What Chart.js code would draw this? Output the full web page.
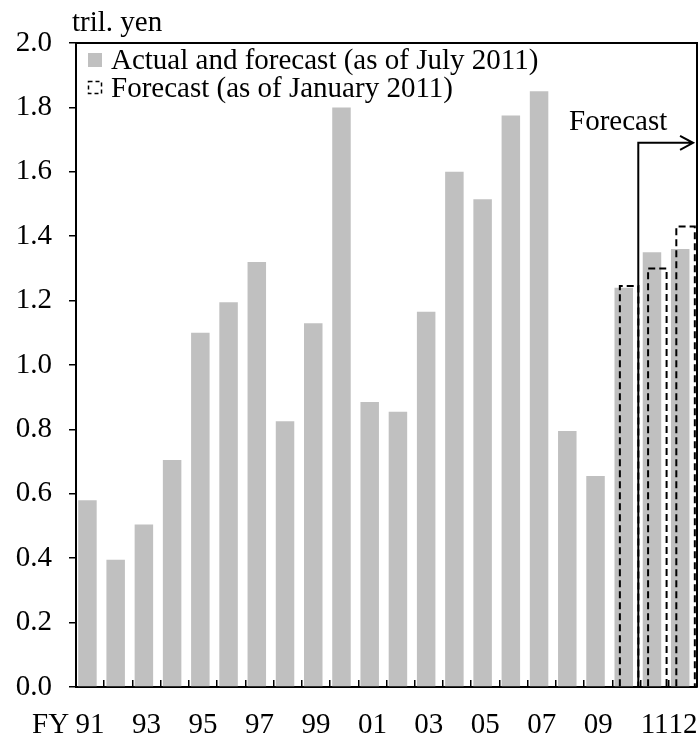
<!DOCTYPE html>
<html>
<head>
<meta charset="utf-8">
<script src="https://cdn.jsdelivr.net/npm/chart.js@4.4.1/dist/chart.umd.min.js"></script>
<style>
  html, body { margin: 0; padding: 0; background: #fff; }
</style>
</head>
<body>
<canvas id="chart" width="700" height="735"></canvas>
<script>
// fiscal years and values (tril. yen)
const years = ['91','92','93','94','95','96','97','98','99','00','01',
               '02','03','04','05','06','07','08','09','10','11','12'];
const actualJuly = [0.58, 0.395, 0.505, 0.705, 1.10, 1.195, 1.32, 0.825, 1.13, 1.80, 0.885,
                    0.855, 1.165, 1.60, 1.515, 1.775, 1.85, 0.795, 0.655, 1.24, 1.35, 1.36];
const forecastJan = [null, null, null, null, null, null, null, null, null, null, null,
                     null, null, null, null, null, null, null, null, 1.245, 1.30, 1.43];
const shownYears = ['91','93','95','97','99','01','03','05','07','09','11','12'];
const legendLabels = ['Actual and forecast (as of July 2011)', 'Forecast (as of January 2011)'];

const FONT = 'Liberation Serif';
const GRAY = '#c0c0c0';

// dashed outline for the January forecast bars, drawn above the gray bars
const dashedBars = {
  id: 'dashedBars',
  afterDatasetsDraw(chart) {
    const ctx = chart.ctx;
    const meta = chart.getDatasetMeta(1);
    ctx.save();
    ctx.strokeStyle = '#000';
    ctx.lineWidth = 2;
    ctx.setLineDash([7, 4]);
    meta.data.forEach((bar, i) => {
      if (forecastJan[i] == null) return;
      const { x, y, base, width } = bar.getProps(['x', 'y', 'base', 'width'], true);
      ctx.beginPath();
      ctx.moveTo(x - width / 2, base);
      ctx.lineTo(x - width / 2, y);
      ctx.lineTo(x + width / 2, y);
      ctx.lineTo(x + width / 2, base);
      ctx.stroke();
    });
    ctx.restore();
  }
};

// frame, legend, unit label, "FY" and forecast arrow
const extras = {
  id: 'extras',
  afterDraw(chart) {
    const { ctx, chartArea: a, scales: { x, y } } = chart;
    ctx.save();
    ctx.strokeStyle = '#000';
    ctx.lineWidth = 2;
    ctx.beginPath();
    ctx.moveTo(a.left, a.top);
    ctx.lineTo(a.right, a.top);
    ctx.lineTo(a.right, a.bottom);
    ctx.stroke();

    ctx.fillStyle = '#000';
    ctx.font = '29px "' + FONT + '"';
    ctx.textBaseline = 'alphabetic';
    ctx.textAlign = 'left';
    ctx.fillText('tril. yen', 72, 31);
    ctx.textBaseline = 'middle';
    ctx.fillText('FY', 32, x.top + 21 + 17.4);

    // legend
    ctx.fillStyle = GRAY;
    ctx.fillRect(a.left + 12, a.top + 10, 14, 14);
    ctx.save();
    ctx.lineWidth = 1.5;
    ctx.setLineDash([4, 3]);
    ctx.strokeRect(a.left + 12.5, a.top + 38.5, 13, 12);
    ctx.restore();
    ctx.fillStyle = '#000';
    ctx.fillText(legendLabels[0], a.left + 35, a.top + 18);
    ctx.fillText(legendLabels[1], a.left + 35, a.top + 46);

    // forecast arrow
    const lx = x.getPixelForValue(19.42);
    const tipX = x.getPixelForValue(21.36);
    const ly = y.getPixelForValue(1.69);
    ctx.beginPath();
    ctx.moveTo(lx, a.bottom);
    ctx.lineTo(lx, ly);
    ctx.lineTo(tipX, ly);
    ctx.moveTo(tipX - 13, ly - 7);
    ctx.lineTo(tipX, ly);
    ctx.lineTo(tipX - 13, ly + 7);
    ctx.stroke();
    ctx.textBaseline = 'alphabetic';
    ctx.fillText('Forecast', 569, 130);
    ctx.restore();
  }
};

new Chart(document.getElementById('chart'), {
  type: 'bar',
  data: {
    labels: years,
    datasets: [
      { label: legendLabels[0], data: actualJuly, backgroundColor: GRAY, borderWidth: 0 },
      { label: legendLabels[1], data: forecastJan, backgroundColor: 'rgba(0,0,0,0)', borderWidth: 0 }
    ]
  },
  options: {
    responsive: false,
    animation: false,
    events: [],
    categoryPercentage: 0.38,
    barPercentage: 3.45,
    layout: { padding: { top: 43, right: 3, left: 0, bottom: 0 } },
    plugins: { legend: { display: false }, tooltip: { enabled: false } },
    scales: {
      x: {
        grid: { drawOnChartArea: false, tickLength: -7, color: '#000', lineWidth: 1.5 },
        border: { color: '#000', width: 2 },
        ticks: {
          autoSkip: false, maxRotation: 0, minRotation: 0, padding: 28,
          color: '#000', font: { family: FONT, size: 29 },
          callback: (v, i) => shownYears.includes(years[i]) ? years[i] : ''
        },
        afterFit: s => { s.height = 48; s.paddingLeft = 0; s.paddingRight = 0; }
      },
      y: {
        min: 0, max: 2,
        grid: { drawOnChartArea: false, tickLength: 7, color: '#000', lineWidth: 1.5 },
        border: { color: '#000', width: 2 },
        ticks: {
          stepSize: 0.2, padding: 17, color: '#000',
          font: { family: FONT, size: 29 },
          callback: v => v.toFixed(1)
        },
        afterFit: s => { s.width = 76; }
      }
    }
  },
  plugins: [dashedBars, extras]
});
</script>
</body>
</html>
